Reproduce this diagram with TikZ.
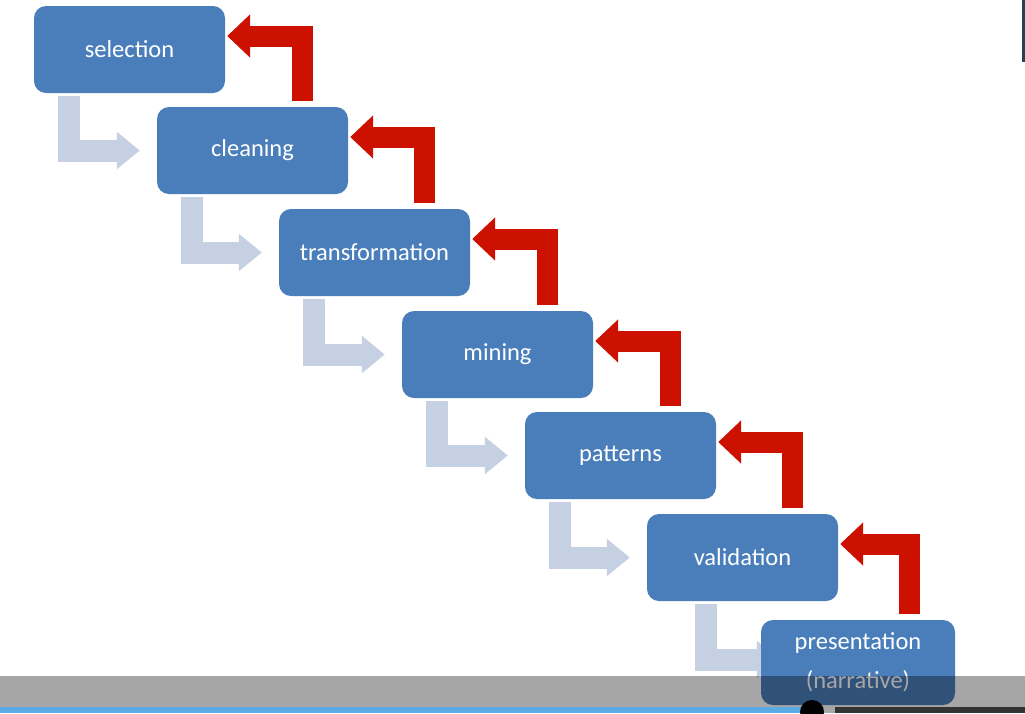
\documentclass[tikz,border=0pt]{standalone}
\usepackage{fontspec}
\setmainfont{Carlito}
\usetikzlibrary{arrows.meta,backgrounds}

\definecolor{stageblue}{RGB}{74,126,187}
\definecolor{backred}{RGB}{204,17,0}
\definecolor{fwdgray}{RGB}{197,208,227}
\definecolor{barblue}{RGB}{90,170,230}
\definecolor{edgeslate}{RGB}{47,64,80}

\begin{document}
\begin{tikzpicture}[x=1pt, y=-1pt,
    stage/.style={rectangle, rounded corners=12pt, fill=stageblue, text=white,
      minimum width=191pt, minimum height=87pt, inner sep=0pt, align=center,
      font=\fontsize{24.5}{39}\selectfont},
    fwdarrow/.style={draw=fwdgray, line width=22pt, -{Triangle[length=23pt, width=36pt]}},
    backarrow/.style={draw=backred, line width=21pt, {Triangle[length=23pt, width=42pt]}-}
  ]
    \useasboundingbox (0,0) rectangle (1025,713);
    % the seven stages, stepping down to the right
    \node[stage] (sel)   at (129.5, 49.5)  {selection};
    \node[stage] (clean) at (252.5, 150.5) {cleaning};
    \node[stage] (trans) at (374.5, 252.5) {transformation};
    \node[stage] (mine)  at (497.5, 354.5) {mining};
    \node[stage] (patt)  at (620.5, 455.5) {patterns};
    \node[stage] (valid) at (742.5, 557.5) {validation};
    \node[stage, minimum width=194pt, minimum height=85pt] (pres) at (858, 662.5)
      {presentation\\(narrative)};
    % forward (grey) and backward (red) elbow arrows, behind the stages
    \begin{pgfonlayer}{background}
      \fill[white] (0,0) rectangle (1025,713);
      \foreach \a/\b/\gx/\ex/\ey in {sel/clean/35/-17/0, clean/trans/35/-17/0,
                                     trans/mine/35/-17/0, mine/patt/35/-17/0,
                                     patt/valid/35/-17/0, valid/pres/59/19/3} {
        \draw[fwdarrow] ([xshift=\gx pt, yshift=-3pt]\a.south west) |- ([xshift=\ex pt, yshift=\ey pt]\b.west);
        \draw[backarrow] ([xshift=2pt, yshift=13.5pt]\a.east) -| ([xshift=-45.5pt, yshift=6pt]\b.north east);
      }
    \end{pgfonlayer}
    % player bar over the bottom
    \fill[black, opacity=0.35] (0,676) rectangle (1025,707);
    \fill[barblue] (0,707) rectangle (812,713);
    \fill[gray!70] (812,707) rectangle (835,713);
    \fill[black!80] (835,707) rectangle (1025,713);
    \fill[black] (812,712) circle (12);
    \fill[edgeslate] (1022,0) rectangle (1025,62);
  \end{tikzpicture}
\end{document}
